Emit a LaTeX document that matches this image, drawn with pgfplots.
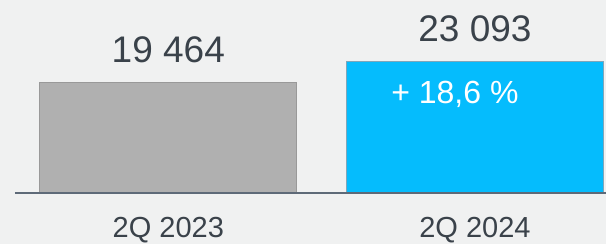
\documentclass[border=0pt]{standalone}
\usepackage{pgfplots}
\pgfplotsset{compat=1.18}
\usepackage{fontspec}
\setmainfont{Liberation Sans}
\definecolor{bg}{HTML}{F0F1F1}
\definecolor{txt}{HTML}{3A424A}
\definecolor{baseln}{HTML}{5E6A78}
\definecolor{graybar}{HTML}{B0B0B0}
\definecolor{grayedge}{HTML}{999999}
\definecolor{bluebar}{HTML}{05BCFD}
\definecolor{blueedge}{HTML}{7FA6BA}
\begin{document}
\begin{tikzpicture}
\useasboundingbox (0,-51pt) rectangle (606pt,193pt);
\fill[bg] (0,-51pt) rectangle (606pt,193pt);
\begin{axis}[
  at={(15pt,0pt)}, anchor=south west,
  scale only axis, width=591pt, height=193pt,
  xmin=-0.5, xmax=1.4274, ymin=0, ymax=33850,
  axis x line*=bottom, axis y line=none,
  x axis line style={line width=2.5pt, color=baseln},
  xtick={0,1}, xticklabels={2Q 2023,2Q 2024},
  major tick length=0pt, xtick style={draw=none},
  xticklabel style={font=\fontsize{29pt}{30pt}\selectfont, text=txt, anchor=base, inner sep=0pt, yshift=-44.5pt},
  nodes near coords, point meta=explicit symbolic,
  every node near coord/.append style={font=\fontsize{37pt}{39pt}\selectfont, text=txt, anchor=base, yshift=19.5pt},
  axis on top, clip=false,
]
\addplot[ybar, bar width=257pt, bar shift=0pt, fill=graybar, draw=grayedge, line width=0.7pt]
  coordinates {(0,19464) [19 464]};
\addplot[ybar, bar width=257pt, bar shift=0pt, fill=bluebar, draw=blueedge, line width=0.5pt]
  coordinates {(1,23093) [23 093]};
\node[anchor=base, text=white, font=\fontsize{32pt}{34pt}\selectfont]
  at ([xshift=-20pt,yshift=-42pt]axis cs:1,23093) {+ 18,6 \%};
\end{axis}
\end{tikzpicture}
\end{document}
